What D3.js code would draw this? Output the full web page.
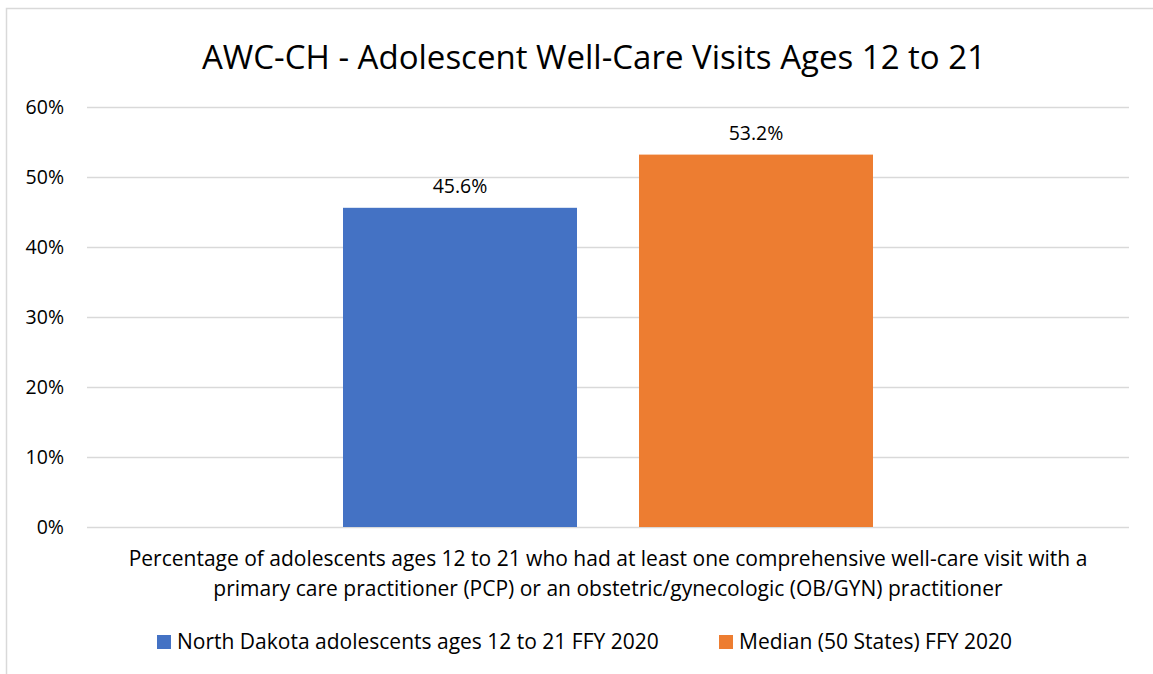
<!DOCTYPE html>
<html>
<head>
<meta charset="utf-8">
<script src="https://cdn.jsdelivr.net/npm/d3@7"></script>
<style>
  body { margin: 0; background: #fff; }
  text { font-family: "Open Sans", sans-serif; fill: #000; }
</style>
</head>
<body>
<div id="chart"></div>
<script>
// chart data
var categories = ['Percentage of adolescents ages 12 to 21 who had at least one comprehensive well-care visit with a',
                  'primary care practitioner (PCP) or an obstetric/gynecologic (OB/GYN) practitioner'];
var series_names = ['North Dakota adolescents ages 12 to 21 FFY 2020', 'Median (50 States) FFY 2020'];
var series_values = [0.456, 0.532];
var series_colors = ['#4472C4', '#ED7D31'];
var y_ticks = [0, 0.1, 0.2, 0.3, 0.4, 0.5, 0.6];

var chart_width = 1153;
var chart_height = 674;
var font_size = 21;

var svg = d3.select('#chart')
  .append('svg')
  .attr('width', chart_width)
  .attr('height', chart_height);

// outer frame
svg.append('rect')
  .attr('x', 6.5)
  .attr('y', 8.5)
  .attr('width', chart_width)
  .attr('height', chart_height)
  .attr('fill', 'none')
  .attr('stroke', '#d9d9d9')
  .attr('stroke-width', 1.5);

// title
svg.append('text')
  .attr('x', 594)
  .attr('y', 69)
  .attr('text-anchor', 'middle')
  .attr('font-size', 33)
  .text('AWC-CH - Adolescent Well-Care Visits Ages 12 to 21');

// scales
var plot_left = 87, plot_right = 1129;
var x0 = d3.scaleBand()
  .domain(['cat'])
  .range([plot_left, plot_right])
  .padding(0.3257);

var x1 = d3.scaleBand()
  .domain(series_names)
  .range([0, x0.bandwidth()])
  .paddingInner(0.2095);

var y_scale = d3.scaleLinear()
  .domain([0, 0.6])
  .range([527, 107]);

// gridlines + labels
var y_axis = d3.axisLeft(y_scale)
  .tickValues(y_ticks)
  .tickFormat(d3.format('.0%'))
  .tickSize(-(plot_right - plot_left))
  .tickPadding(23);

var gy = svg.append('g')
  .attr('transform', 'translate(' + plot_left + ',0)')
  .call(y_axis);
gy.select('.domain').remove();
gy.selectAll('line')
  .attr('stroke', '#d9d9d9')
  .attr('stroke-width', 1.5);
gy.selectAll('text')
  .attr('font-size', 19.5)
  .attr('fill', '#000')
  .style('font-family', '"Open Sans", sans-serif');

// bars
svg.selectAll('rect.bar')
  .data(series_values)
  .enter()
  .append('rect')
  .attr('class', 'bar')
  .attr('x', function(d, i) {
    return x0('cat') + x1(series_names[i]);
  })
  .attr('y', function(d) {
    return y_scale(d);
  })
  .attr('width', x1.bandwidth())
  .attr('height', function(d) {
    return y_scale(0) - y_scale(d);
  })
  .attr('fill', function(d, i) {
    return series_colors[i];
  });

// value labels
svg.selectAll('text.val')
  .data(series_values)
  .enter()
  .append('text')
  .attr('class', 'val')
  .attr('x', function(d, i) {
    return x0('cat') + x1(series_names[i]) + x1.bandwidth() / 2;
  })
  .attr('y', function(d) {
    return y_scale(d) - 15;
  })
  .attr('text-anchor', 'middle')
  .attr('font-size', 19.5)
  .text(function(d) {
    return d3.format('.1%')(d);
  });

// category label (two lines)
svg.selectAll('text.cat')
  .data(categories)
  .enter()
  .append('text')
  .attr('class', 'cat')
  .attr('x', x0('cat') + x0.bandwidth() / 2)
  .attr('y', function(d, i) {
    return 566 + i * 30;
  })
  .attr('text-anchor', 'middle')
  .attr('font-size', font_size)
  .text(function(d) { return d; });

// legend
var legend_x = [157, 719];
var legend = svg.selectAll('g.legend')
  .data(series_names)
  .enter()
  .append('g')
  .attr('class', 'legend')
  .attr('transform', function(d, i) {
    return 'translate(' + legend_x[i] + ',635)';
  });
legend.append('rect')
  .attr('width', 14)
  .attr('height', 14)
  .attr('fill', function(d, i) { return series_colors[i]; });
legend.append('text')
  .attr('x', 20)
  .attr('y', 14)
  .attr('font-size', font_size)
  .text(function(d) { return d; });
</script>
</body>
</html>
